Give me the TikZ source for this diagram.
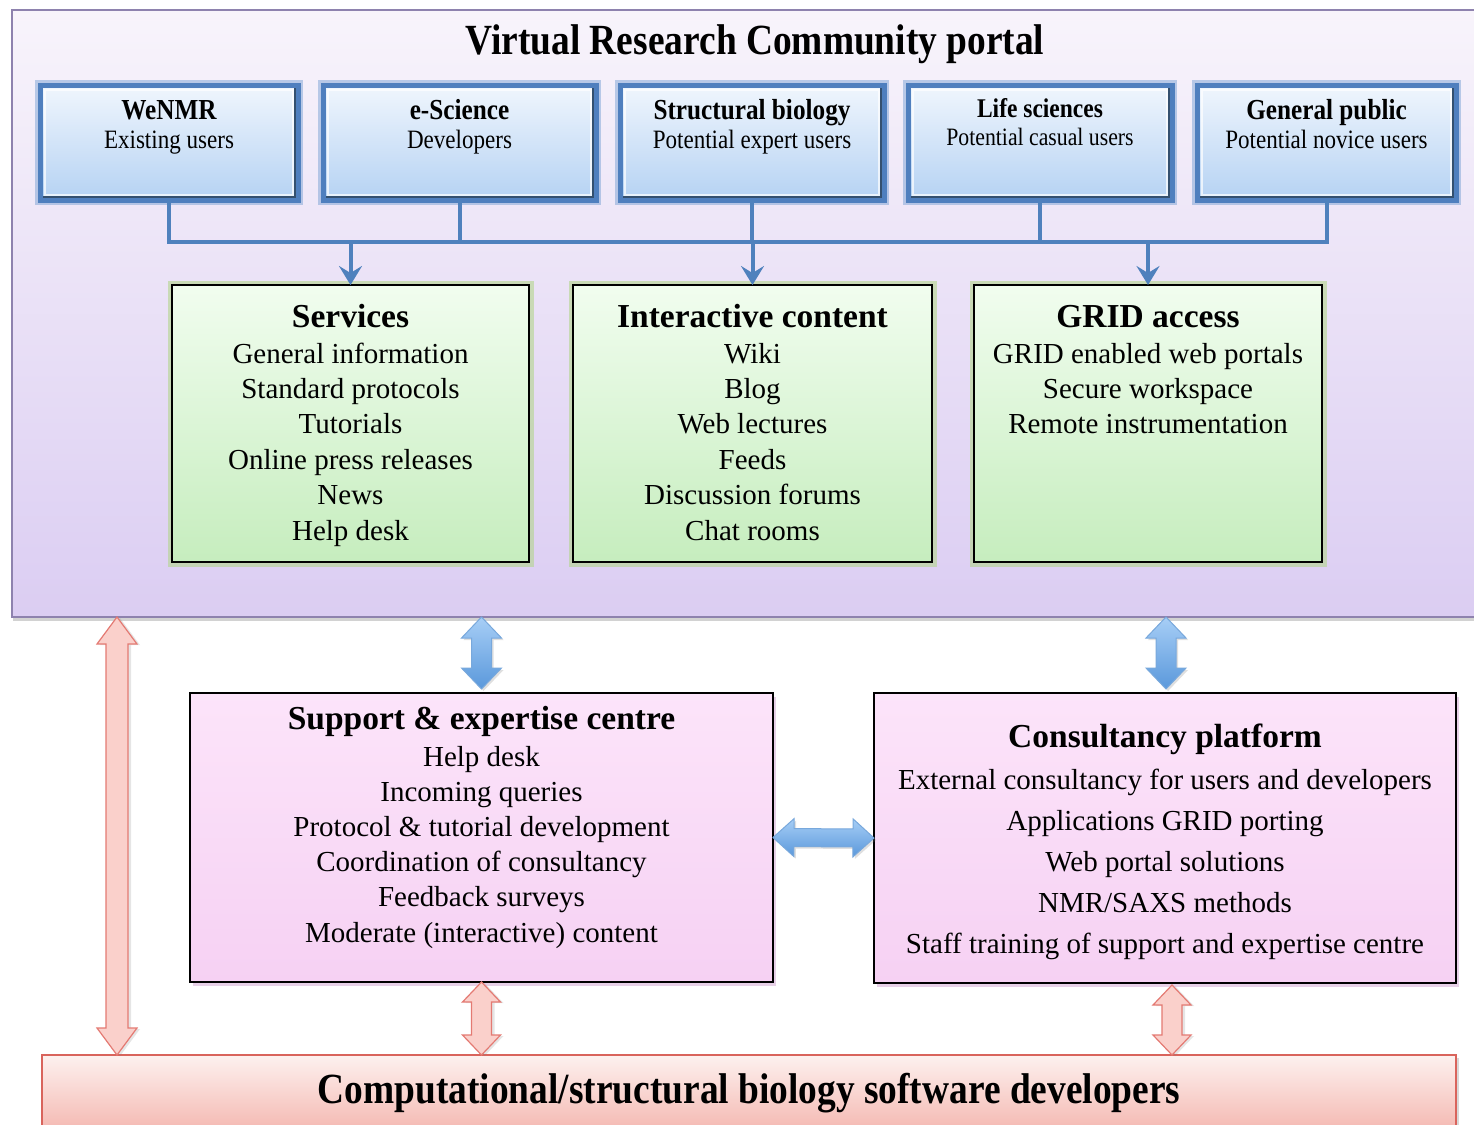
\documentclass[tikz,border=0pt]{standalone}
\usepackage{fontspec}
\setmainfont{Liberation Serif}
\newfontfamily\condserif[FakeStretch=0.87]{Liberation Serif}
\usetikzlibrary{calc,arrows.meta,shadows}

\definecolor{portaltop}{HTML}{F8F4FB}
\definecolor{portalbot}{HTML}{DBCDF2}
\definecolor{portalline}{HTML}{8E82AE}
\definecolor{usertop}{HTML}{F0F6FD}
\definecolor{userbot}{HTML}{B5D2F3}
\definecolor{userline}{HTML}{4F7FBE}
\definecolor{userglow}{HTML}{6D9AD0}
\definecolor{userdark}{HTML}{34506F}
\definecolor{busblue}{HTML}{4F81BD}
\definecolor{greentop}{HTML}{F1FDEF}
\definecolor{greenbot}{HTML}{C6EDBE}
\definecolor{greenglow}{HTML}{B3D58C}
\definecolor{pinktop}{HTML}{FCE4FA}
\definecolor{pinkbot}{HTML}{F6D1F3}
\definecolor{devtop}{HTML}{FDF1EF}
\definecolor{devbot}{HTML}{F4B5AE}
\definecolor{devline}{HTML}{D9645C}
\definecolor{arrowbluetop}{HTML}{A7CEF6}
\definecolor{arrowbluebot}{HTML}{5A98DB}
\definecolor{arrowblueline}{HTML}{78A8DC}
\definecolor{arrowredside}{HTML}{FAD0CB}
\definecolor{arrowredmid}{HTML}{FEEFED}
\definecolor{arrowredline}{HTML}{E47A73}

% Block double arrow between two points:
% #1 style, #2 start, #3 end, #4 half shaft width, #5 half head width, #6 head length
\newcommand\blockarrow[6]{%
  \path[#1] (#2)
    -- ($(#2)!#6!(#3)!#5!90:(#3)$)
    -- ($(#2)!#6!(#3)!#4!90:(#3)$)
    -- ($(#3)!#6!(#2)!#4!-90:(#2)$)
    -- ($(#3)!#6!(#2)!#5!-90:(#2)$)
    -- (#3)
    -- ($(#3)!#6!(#2)!#5!90:(#2)$)
    -- ($(#3)!#6!(#2)!#4!90:(#2)$)
    -- ($(#2)!#6!(#3)!#4!-90:(#3)$)
    -- ($(#2)!#6!(#3)!#5!-90:(#3)$)
    -- cycle;}

% Bevelled inner edge of a community box
\newcommand\userbevel[1]{%
  \draw[white, opacity=0.7, line width=2pt]
    ($(#1.north west)+(5,5)$) rectangle ($(#1.south east)+(-5,-5)$);
  \draw[userdark, line width=1.5pt, line join=miter]
    ($(#1.north east)+(-3,3)$) -- ($(#1.south east)+(-3,-3)$) -- ($(#1.south west)+(3,-3)$);}

\tikzset{
  box/.style={rectangle, inner sep=0pt, outer sep=0pt, anchor=north west},
  portalbox/.style={box, draw=portalline, line width=1.5pt,
    top color=portaltop, bottom color=portalbot,
    drop shadow={opacity=0.35, shadow xshift=1pt, shadow yshift=-4pt}},
  userbox/.style={box, draw=userline, line width=5pt,
    top color=usertop, bottom color=userbot,
    preaction={draw=userglow, line width=10pt, opacity=0.45}},
  greenbox/.style={box, draw=black, line width=2.5pt,
    top color=greentop, bottom color=greenbot,
    preaction={draw=greenglow, line width=9pt, opacity=0.6}},
  pinkbox/.style={box, draw=black, line width=2.5pt,
    top color=pinktop, bottom color=pinkbot,
    drop shadow={opacity=0.3, fill=violet!60, shadow xshift=3pt, shadow yshift=-4pt}},
  devbox/.style={box, draw=devline, line width=1.5pt,
    top color=devtop, bottom color=devbot,
    drop shadow={opacity=0.3, shadow xshift=3pt, shadow yshift=-3pt}},
  busline/.style={draw=busblue, line width=4pt},
  busarrow/.style={busline, -{Stealth[length=19pt, width=23pt, inset=7pt]}},
  bluearrow/.style={draw=arrowblueline, line width=1pt,
    top color=arrowbluetop, bottom color=arrowbluebot,
    drop shadow={opacity=0.25, shadow xshift=2pt, shadow yshift=-2pt}},
  redarrow/.style={draw=arrowredline, line width=1.2pt,
    left color=arrowredside, middle color=arrowredmid, right color=arrowredside,
    drop shadow={opacity=0.2, shadow xshift=3pt, shadow yshift=-1pt}},
  maintitle/.style={font=\condserif\bfseries\fontsize{43}{50}\selectfont, anchor=base, inner sep=0pt},
  utitle/.style={font=\condserif\bfseries\fontsize{29}{34}\selectfont, anchor=base, inner sep=0pt},
  usub/.style={font=\condserif\fontsize{26.5}{32}\selectfont, anchor=base, inner sep=0pt},
  btitle/.style={font=\bfseries\fontsize{33.5}{40}\selectfont, anchor=base, inner sep=0pt},
  bitem/.style={font=\fontsize{29}{35}\selectfont, anchor=base, inner sep=0pt},
}

\begin{document}
\begin{tikzpicture}[x=1pt, y=-1pt]
  \fill[white] (0,0) rectangle (1474,1124);
  \useasboundingbox (0,0) rectangle (1474,1124);
  \clip (0,0) rectangle (1474,1124);

  % Portal frame
  \node[portalbox, minimum width=1480, minimum height=607] (portal) at (12,10) {};
  \node[maintitle] (title) at (755,55) {Virtual Research Community portal};

  % User communities
  \node[userbox, minimum width=258, minimum height=115] (wenmr) at (40,85) {};
  \node[userbox, minimum width=273, minimum height=115] (escience) at (323,85) {};
  \node[userbox, minimum width=264, minimum height=115] (structbio) at (620,85) {};
  \node[userbox, minimum width=264, minimum height=115] (lifesci) at (908,85) {};
  \node[userbox, minimum width=259, minimum height=115] (public) at (1197,85) {};
  \foreach \b in {wenmr, escience, structbio, lifesci, public} \userbevel{\b};

  \node[utitle] (wenmrT) at ($(wenmr.north)+(0,34)$) {WeNMR};
  \node[usub] (wenmrS) at ($(wenmr.north)+(0,63)$) {Existing users};
  \node[utitle] (escienceT) at ($(escience.north)+(0,34)$) {e-Science};
  \node[usub] (escienceS) at ($(escience.north)+(0,63)$) {Developers};
  \node[utitle] (structbioT) at ($(structbio.north)+(0,34)$) {Structural biology};
  \node[usub] (structbioS) at ($(structbio.north)+(0,63)$) {Potential expert users};
  \node[utitle, font=\condserif\bfseries\fontsize{27}{32}\selectfont] (lifesciT) at ($(lifesci.north)+(0,32)$) {Life sciences};
  \node[usub, font=\condserif\fontsize{25}{30}\selectfont] (lifesciS) at ($(lifesci.north)+(0,60)$) {Potential casual users};
  \node[utitle] (publicT) at ($(public.north)+(0,34)$) {General public};
  \node[usub] (publicS) at ($(public.north)+(0,63)$) {Potential novice users};

  % Portal sections
  \node[greenbox, minimum width=357, minimum height=277] (services) at (172,285) {};
  \node[greenbox, minimum width=359, minimum height=277] (interactive) at (573,285) {};
  \node[greenbox, minimum width=348, minimum height=277] (grid) at (974,285) {};

  \node[btitle] (servicesT) at ($(services.north)+(0,42)$) {Services};
  \foreach \t [count=\i from 0] in {General information, Standard protocols, Tutorials,
      Online press releases, News, Help desk}
    \node[bitem] (services\i) at ($(services.north)+(0,78+35.4*\i)$) {\t};
  \node[btitle] (interactiveT) at ($(interactive.north)+(0,42)$) {Interactive content};
  \foreach \t [count=\i from 0] in {Wiki, Blog, Web lectures, Feeds, Discussion forums, Chat rooms}
    \node[bitem] (interactive\i) at ($(interactive.north)+(0,78+35.4*\i)$) {\t};
  \node[btitle] (gridT) at ($(grid.north)+(0,42)$) {GRID access};
  \foreach \t [count=\i from 0] in {GRID enabled web portals, Secure workspace, Remote instrumentation}
    \node[bitem] (grid\i) at ($(grid.north)+(0,78+35.4*\i)$) {\t};

  % Bus from the user communities to the sections
  \coordinate (busL) at ($(wenmr.south)+(0,42)$);
  \draw[busline] (wenmr.south) -- (busL) -| (public.south);
  \draw[busline] (escience.south) -- (escience.south |- busL);
  \draw[busline] (structbio.south) -- (structbio.south |- busL);
  \draw[busline] (lifesci.south) -- (lifesci.south |- busL);
  \draw[busarrow] (services.north |- busL) -- (services.north);
  \draw[busarrow] (interactive.north |- busL) -- (interactive.north);
  \draw[busarrow] (grid.north |- busL) -- (grid.north);

  % Support and consultancy
  \node[pinkbox, minimum width=583, minimum height=289] (support) at (190,693) {};
  \node[pinkbox, minimum width=582, minimum height=290] (consult) at (874,693) {};

  \node[btitle] (supportT) at ($(support.north)+(0,36)$) {Support \& expertise centre};
  \foreach \t [count=\i from 0] in {Help desk, Incoming queries, Protocol \& tutorial development,
      Coordination of consultancy, Feedback surveys, Moderate (interactive) content}
    \node[bitem] (support\i) at ($(support.north)+(0,73+35.2*\i)$) {\t};
  \node[btitle] (consultT) at ($(consult.north)+(0,54)$) {Consultancy platform};
  \foreach \t [count=\i from 0] in {External consultancy for users and developers,
      Applications GRID porting, Web portal solutions, NMR/SAXS methods,
      Staff training of support and expertise centre}
    \node[bitem] (consult\i) at ($(consult.north)+(0,96+41*\i)$) {\t};

  % Developers
  \node[devbox, minimum width=1414, minimum height=80] (dev) at (42,1055) {};
  \node[maintitle] (devT) at (749,1103) {Computational/structural biology software developers};

  % Block arrows
  \coordinate (supTop) at (support.north |- portal.south);
  \coordinate (conTop) at ($(consult.north |- portal.south)+(1,0)$);
  \coordinate (conIn) at ($(consult.north)+(1,-4)$);
  \coordinate (supIn) at ($(support.north)+(0,-4)$);
  \blockarrow{bluearrow}{supTop}{supIn}{10pt}{20pt}{21pt}
  \blockarrow{bluearrow}{conTop}{conIn}{10pt}{20pt}{21pt}
  \blockarrow{bluearrow}{support.east}{consult.west}{9pt}{19pt}{21pt}

  \coordinate (leftTop) at (117,617);
  \coordinate (leftBot) at (dev.north -| leftTop);
  \coordinate (supBot) at (support.south);
  \coordinate (supDev) at (dev.north -| supBot);
  \coordinate (conBot) at ($(consult.south)+(7,2)$);
  \coordinate (conDev) at (dev.north -| conBot);
  \blockarrow{redarrow}{leftTop}{leftBot}{11pt}{20pt}{27pt}
  \blockarrow{redarrow}{supBot}{supDev}{10pt}{19pt}{20pt}
  \blockarrow{redarrow}{conBot}{conDev}{10pt}{19pt}{20pt}
\end{tikzpicture}
\end{document}
